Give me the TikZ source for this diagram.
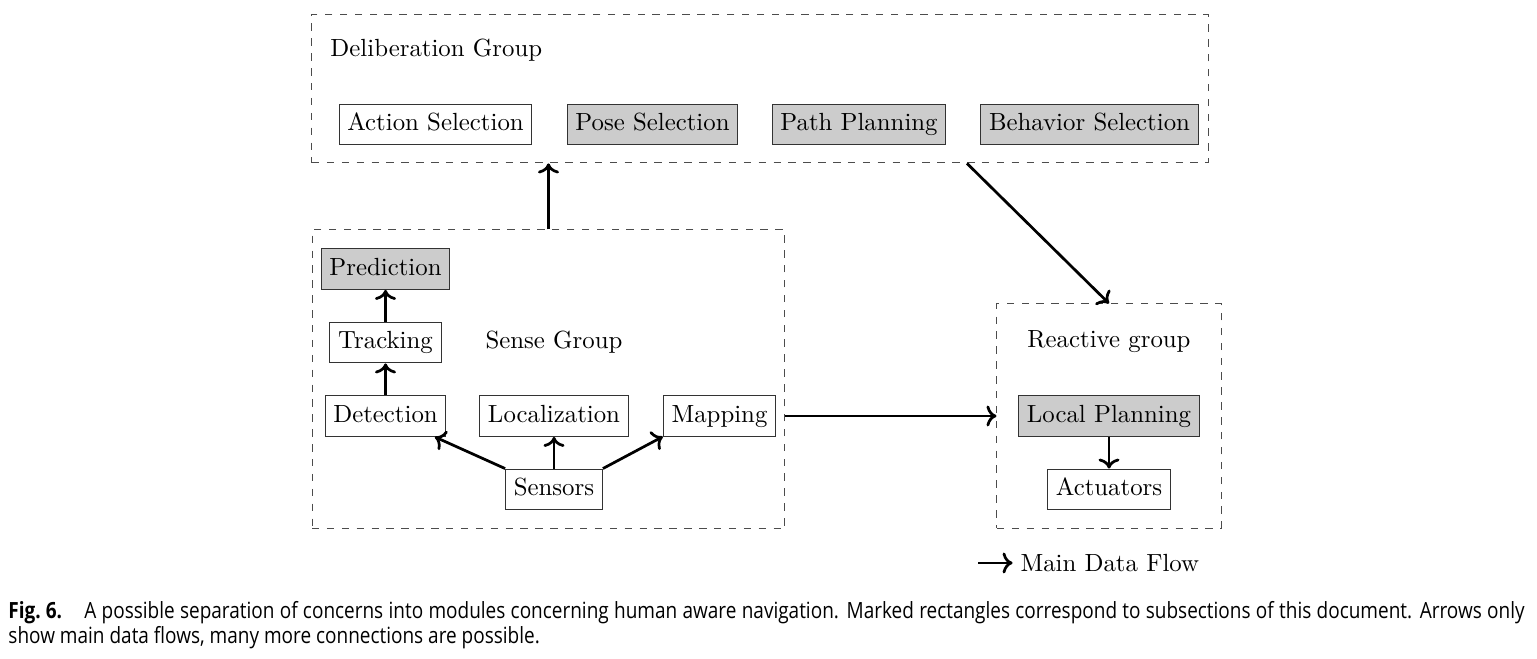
\documentclass[tikz,border=0pt]{standalone}
\usepackage{fontspec}
\newfontfamily\capfont{Open Sans}[FakeStretch=0.85]
\usepackage{tikz}
\usetikzlibrary{arrows.meta,positioning,calc}

\begin{document}
\begin{tikzpicture}[
        x=0.403pt, y=-0.403pt,
        module/.style={draw=black!80, text height=6.94pt, text depth=1.94pt, inner xsep=3.33pt, inner ysep=3.8pt},
        marked/.style={module, fill=black!20},
        group/.style={draw=black!70, dashed, inner sep=0pt},
        title/.style={inner sep=0pt},
        flow/.style={->, line width=1.1pt}
    ]
    \useasboundingbox (0,0) rectangle (1537,659);

    % groups
    \node[group, minimum width=361.1pt, minimum height=60pt] (delib) at (760,88.5) {};
    \node[group, minimum width=190.6pt, minimum height=120.5pt] (sense) at (548.5,379.5) {};
    \node[group, minimum width=90.3pt, minimum height=90.3pt] (reactive) at (1109,416) {};

    \node[title, anchor=west] (delibtitle) at (330,50) {Deliberation Group};
    \node[title] (sensetitle) at (554,342) {Sense Group};
    \node[title] (reactivetitle) at (1109,342) {Reactive group};

    % deliberation
    \node[module] (action) at (435.5,124.5) {Action Selection};
    \node[marked] (pose) at (652.5,124.5) {Pose Selection};
    \node[marked] (path) at (859,124.5) {Path Planning};
    \node[marked] (behavior) at (1089.5,124.5) {Behavior Selection};

    % sense
    \node[marked] (prediction) at (385.5,269) {Prediction};
    \node[module] (tracking) at (385.5,342.5) {Tracking};
    \node[module] (detection) at (385.5,416) {Detection};
    \node[module] (localization) at (554,416) {Localization};
    \node[module] (mapping) at (719.5,416) {Mapping};
    \node[module] (sensors) at (554,489.5) {Sensors};

    % reactive
    \node[marked] (local) at (1109,416) {Local Planning};
    \node[module] (actuators) at (1109,489.5) {Actuators};

    \draw[flow] (detection) -- (tracking);
    \draw[flow] (tracking) -- (prediction);
    \draw[flow] (sensors.north west) -- (detection.-23);
    \draw[flow] (sensors) -- (localization);
    \draw[flow] (sensors.north east) -- (mapping.200);
    \draw[flow] (local) -- (actuators);
    \draw[flow] (sense.north) -- (sense.north |- delib.south);
    \draw[flow] ($(delib.south)+(207,0)$) -- (reactive.north);
    \draw[flow] (sense.east |- mapping.east) -- (reactive.west |- mapping.east);

    % legend
    \node[title, anchor=west] (legend) at (1020,563) {Main Data Flow};
    \coordinate (legstart) at (978,563);
    \draw[flow] (legstart) -- ([xshift=-3pt]legend.west);

    % caption
    \node[title, anchor=west, font=\capfont\fontsize{9}{10.5}\selectfont] (cap1) at (8,613)
        {\makebox[611pt][s]{\mbox{\textbf{Fig.~6.}}\quad A possible separation of concerns into modules concerning human aware navigation. Marked rectangles correspond to subsections of this document. Arrows only}};
    \node[title, anchor=west, font=\capfont\fontsize{9}{10.5}\selectfont] (cap2) at (8,638)
        {show main data flows, many more connections are possible.};
\end{tikzpicture}
\end{document}
